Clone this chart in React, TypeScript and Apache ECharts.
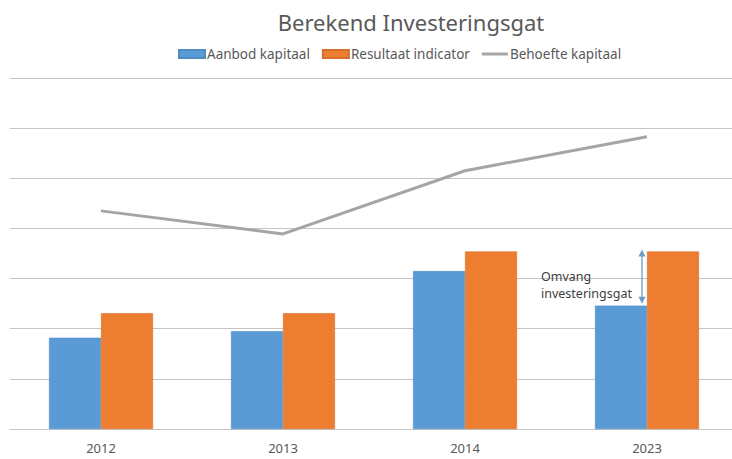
import React, { useEffect, useRef } from "react";
import * as echarts from "echarts";

const categories = ["2012", "2013", "2014", "2023"];
const aanbodKapitaal = [1.82, 1.95, 3.15, 2.46];
const resultaatIndicator = [2.31, 2.31, 3.54, 3.54];
const behoefteKapitaal = [4.35, 3.89, 5.15, 5.83];
const annotationText = "Omvang\ninvesteringsgat";

const FONT = "Noto Sans";

export default function App() {
  const ref = useRef<HTMLDivElement>(null);

  useEffect(() => {
    document.body.style.margin = "0";
    const chart = echarts.init(ref.current!, null, { renderer: "svg" });
    chart.setOption({
      animation: false,
      backgroundColor: "#ffffff",
      title: {
        text: "Berekend Investeringsgat",
        left: 406,
        textAlign: "center",
        top: 6,
        textStyle: { fontFamily: FONT, fontSize: 22, fontWeight: "normal", color: "#595959" },
      },
      legend: {
        left: 173,
        top: 42,
        itemGap: 12,
        itemWidth: 26,
        itemHeight: 8,
        textStyle: { fontFamily: FONT, fontSize: 13.5, color: "#595959", padding: [0, 0, 0, -3] },
        data: [
          { name: "Aanbod kapitaal", icon: "rect" },
          { name: "Resultaat indicator", icon: "rect" },
          {
            name: "Behoefte kapitaal",
            icon: "path://M0,0L0,0.01M0,2.6H26V5.4H0ZM26,8L26,7.99",
          },
        ],
      },
      grid: {
        left: 10,
        width: 728,
        top: 78,
        bottom: 30,
        containLabel: false,
        outerBoundsMode: "none",
      },
      xAxis: {
        type: "category",
        data: categories,
        axisTick: { show: false },
        axisLine: { lineStyle: { color: "#C4C4C4", width: 1 } },
        axisLabel: { fontFamily: FONT, fontSize: 13, color: "#595959", margin: 12 },
      },
      yAxis: {
        type: "value",
        min: 0,
        max: 7,
        interval: 1,
        axisLabel: { show: false },
        axisLine: { show: false },
        axisTick: { show: false },
        splitLine: { lineStyle: { color: "#C4C4C4", width: 1 } },
      },
      series: [
        {
          name: "Aanbod kapitaal",
          type: "bar",
          data: aanbodKapitaal,
          barWidth: 52,
          barGap: "0%",
          itemStyle: { color: "#5B9BD5", borderColor: "#4F8BC4", borderWidth: 0.6 },
        },
        {
          name: "Resultaat indicator",
          type: "bar",
          data: resultaatIndicator,
          barWidth: 52,
          barGap: "0%",
          itemStyle: { color: "#ED7D31", borderColor: "#D86E28", borderWidth: 0.6 },
        },
        {
          name: "Behoefte kapitaal",
          type: "line",
          data: behoefteKapitaal,
          symbol: "none",
          lineStyle: { color: "#A5A5A5", width: 3 },
          itemStyle: { color: "#A5A5A5" },
        },
      ],
    });

    const last = categories.length - 1;
    const pTop = chart.convertToPixel({ gridIndex: 0 }, [categories[last], resultaatIndicator[last]]) as number[];
    const pBot = chart.convertToPixel({ gridIndex: 0 }, [categories[last], aanbodKapitaal[last]]) as number[];
    const ax = pTop[0] - 5;
    const yT = pTop[1] - 2;
    const yB = pBot[1] - 2;
    const head = 7;
    const arrowColor = "#6E9CC8";
    chart.setOption({
      graphic: [
        {
          type: "line",
          shape: { x1: ax, y1: yT + head - 1, x2: ax, y2: yB - head + 1 },
          style: { stroke: arrowColor, lineWidth: 1.3 },
          z: 100,
        },
        {
          type: "polygon",
          shape: { points: [[ax, yT], [ax - 3.5, yT + head], [ax + 3.5, yT + head]] },
          style: { fill: arrowColor },
          z: 100,
        },
        {
          type: "polygon",
          shape: { points: [[ax, yB], [ax - 3.5, yB - head], [ax + 3.5, yB - head]] },
          style: { fill: arrowColor },
          z: 100,
        },
        {
          type: "text",
          x: ax - 101,
          y: yT + 19,
          style: {
            text: annotationText,
            fontFamily: FONT,
            fontSize: 12.5,
            lineHeight: 17,
            fill: "#404040",
          },
          z: 100,
        },
      ],
    });

    return () => chart.dispose();
  }, []);

  return <div ref={ref} style={{ width: 732, height: 459 }} />;
}
